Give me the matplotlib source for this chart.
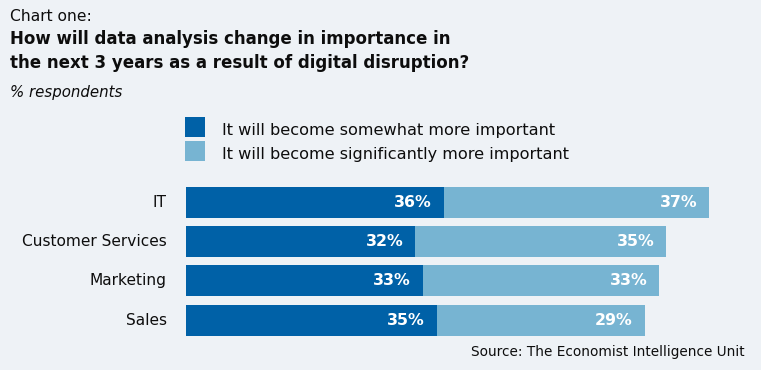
import matplotlib
matplotlib.use("Agg")
import matplotlib.pyplot as plt
from matplotlib.patches import Rectangle

categories = ["IT", "Customer Services", "Marketing", "Sales"]
somewhat = [36, 32, 33, 35]
significantly = [37, 35, 33, 29]
series_names = ["It will become somewhat more important",
                "It will become significantly more important"]

W, H = 761, 370
BG = "#EEF2F6"
DARK = "#0061A7"
LIGHT = "#77B4D2"
FONT = "DejaVu Sans"
TXT = "#0d0d0d"

fig = plt.figure(figsize=(W / 100, H / 100), dpi=100, facecolor=BG)

def fx(x):
    return x / W

def fy(y):
    return 1 - y / H

# axes placement in pixels
left_px = 186
px_per_pct = 7.17
xmax = 80
top_px = 182.9
height_px = 156.8
ax = fig.add_axes([fx(left_px), fy(top_px + height_px), px_per_pct * xmax / W, height_px / H])
ax.set_facecolor(BG)
ax.set_xlim(0, xmax)
ax.set_ylim(len(categories) - 0.5, -0.5)
for s in ax.spines.values():
    s.set_visible(False)
ax.set_xticks([])
ax.set_yticks([])

ypos = list(range(len(categories)))
bh = 0.79
ax.barh(ypos, somewhat, height=bh, color=DARK, linewidth=0)
ax.barh(ypos, significantly, left=somewhat, height=bh, color=LIGHT, linewidth=0)

for i, (a, b) in enumerate(zip(somewhat, significantly)):
    ax.annotate(f"{a}%", xy=(a, i), xytext=(-8.6, 0), textcoords="offset points",
                ha="right", va="center", color="white", fontweight="bold",
                fontsize=11.3, family=FONT)
    ax.annotate(f"{b}%", xy=(a + b, i), xytext=(-8.6, 0), textcoords="offset points",
                ha="right", va="center", color="white", fontweight="bold",
                fontsize=11.3, family=FONT)
    ax.annotate(categories[i], xy=(0, i), xytext=(-13.7, 0), textcoords="offset points",
                ha="right", va="center", color=TXT, fontsize=11.1, family=FONT,
                annotation_clip=False)

# titles
fig.text(fx(10), fy(21), "Chart one:", fontsize=11.2, family=FONT, color=TXT, va="baseline")
fig.text(fx(10), fy(44), "How will data analysis change in importance in",
         fontsize=12, fontweight="bold", family=FONT, color=TXT, va="baseline")
fig.text(fx(10), fy(68), "the next 3 years as a result of digital disruption?",
         fontsize=12, fontweight="bold", family=FONT, color=TXT, va="baseline")
fig.text(fx(10), fy(97), "% respondents", fontsize=10.8, style="italic", family=FONT,
         color=TXT, va="baseline")

# legend
for k, (name, col) in enumerate(zip(series_names, [DARK, LIGHT])):
    top = 117 + 24 * k
    fig.patches.append(Rectangle((fx(185), fy(top + 20)), 20 / W, 20 / H,
                                 transform=fig.transFigure, facecolor=col,
                                 edgecolor="none"))
    fig.text(fx(222), fy(135 + 24 * k), name, fontsize=11.6, family=FONT,
             color=TXT, va="baseline")

fig.text(fx(745), fy(356), "Source: The Economist Intelligence Unit", fontsize=9.8,
         family=FONT, color=TXT, ha="right", va="baseline")

fig.savefig("out.png", dpi=100, facecolor=BG)
